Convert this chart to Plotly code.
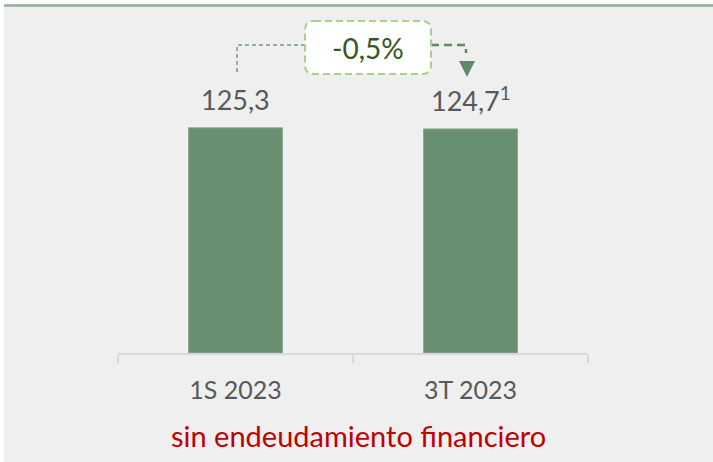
import plotly.graph_objects as go

# ==================== DATA ====================
categories = ["1S 2023", "3T 2023"]
values = [125.3, 124.7]
value_labels = ["125,3", "124,7<sup>1</sup>"]
footnote = "sin endeudamiento financiero"

# ==================== THEME ====================
BG = '#efefef'
BAR_COLOR = '#678f70'
AXIS_COLOR = '#d9d9d9'
LABEL_COLOR = '#595959'
RED = '#c00000'
BOX_BORDER = '#a9d18e'
BOX_TEXT = '#375623'
FONT = 'Lato'

W, H = 713, 462
L, R, T, B = 118, 125, 8, 109
PW, PH = W - L - R, H - T - B


def px_x(px):
    return (px - L) / PW


def px_y(py):
    return (H - B - py) / PH


change = (values[1] - values[0]) / values[0] * 100
change_text = f"{change:.1f}%".replace('.', ',')

fig = go.Figure()
fig.add_trace(go.Bar(
    x=categories, y=values, width=0.4,
    marker=dict(color=BAR_COLOR, line=dict(color='#8aab91', width=1)),
    hoverinfo='skip'
))

# value labels
for cat, v, lab in zip(categories, values, value_labels):
    fig.add_annotation(x=cat, y=v, text=lab, showarrow=False, yanchor='bottom',
                       yshift=10, font=dict(family=FONT, size=27, color=LABEL_COLOR))

# connector (left part)
fig.add_shape(type='path', xref='paper', yref='paper',
              path=f"M {px_x(237)},{px_y(72)} L {px_x(237)},{px_y(45)} L {px_x(305)},{px_y(45)}",
              line=dict(color='#6f9b7a', width=1.5, dash='4px,3px'))
# connector (right part)
fig.add_shape(type='path', xref='paper', yref='paper',
              path=f"M {px_x(431)},{px_y(45)} L {px_x(466)},{px_y(45)} L {px_x(466)},{px_y(53)}",
              line=dict(color='#5e8a68', width=2.5, dash='8px,5px'))
# arrow head
fig.add_shape(type='path', xref='paper', yref='paper',
              path=f"M {px_x(459)},{px_y(61)} L {px_x(475)},{px_y(61)} L {px_x(467)},{px_y(77)} Z",
              fillcolor='#5e8a68', line=dict(width=0))

# rounded dashed box with change
x0, x1, y0, y1, r = 305, 431, 21, 74, 9
box_path = (
    f"M {px_x(x0 + r)},{px_y(y0)} L {px_x(x1 - r)},{px_y(y0)} "
    f"Q {px_x(x1)},{px_y(y0)} {px_x(x1)},{px_y(y0 + r)} "
    f"L {px_x(x1)},{px_y(y1 - r)} Q {px_x(x1)},{px_y(y1)} {px_x(x1 - r)},{px_y(y1)} "
    f"L {px_x(x0 + r)},{px_y(y1)} Q {px_x(x0)},{px_y(y1)} {px_x(x0)},{px_y(y1 - r)} "
    f"L {px_x(x0)},{px_y(y0 + r)} Q {px_x(x0)},{px_y(y0)} {px_x(x0 + r)},{px_y(y0)} Z"
)
fig.add_shape(type='path', xref='paper', yref='paper', path=box_path,
              fillcolor='white', line=dict(color=BOX_BORDER, width=2, dash='7px,4px'))
fig.add_annotation(xref='paper', yref='paper', x=px_x(368), y=px_y(48), text=change_text,
                   xanchor='center', yanchor='middle',
                   showarrow=False, font=dict(family=FONT, size=28, color=BOX_TEXT))

# top green rule and white edges
fig.add_shape(type='rect', xref='paper', yref='paper', x0=px_x(0), x1=px_x(W),
              y0=px_y(0), y1=px_y(4), fillcolor='white', line=dict(width=0), layer='below')
fig.add_shape(type='rect', xref='paper', yref='paper', x0=px_x(0), x1=px_x(4),
              y0=px_y(0), y1=px_y(H), fillcolor='white', line=dict(width=0), layer='below')
fig.add_shape(type='line', xref='paper', yref='paper', x0=px_x(4), x1=px_x(W),
              y0=px_y(5.5), y1=px_y(5.5), line=dict(color='#8fb39a', width=2.5))

# footnote
fig.add_annotation(xref='paper', yref='paper', x=px_x(358), y=px_y(435), text=footnote,
                   xanchor='center', yanchor='middle',
                   showarrow=False, font=dict(family=FONT, size=29, color=RED))

fig.update_layout(
    width=W, height=H,
    margin=dict(l=L, r=R, t=T, b=B),
    paper_bgcolor=BG, plot_bgcolor=BG,
    showlegend=False,
    xaxis=dict(
        range=[-0.5, 1.5], showgrid=False, showline=True, linecolor=AXIS_COLOR, linewidth=2,
        ticks='outside', tickson='boundaries', ticklen=8, tickwidth=2, tickcolor=AXIS_COLOR,
        ticklabelstandoff=14,
        tickfont=dict(family=FONT, size=25, color=LABEL_COLOR), fixedrange=True
    ),
    yaxis=dict(range=[0, 192], visible=False, showgrid=False, zeroline=False, fixedrange=True),
)

# drop the default body margin so the figure sits at the page origin
fig.write_html("out.html", config={'displayModeBar': False},
               post_script="document.body.style.margin='0';")
